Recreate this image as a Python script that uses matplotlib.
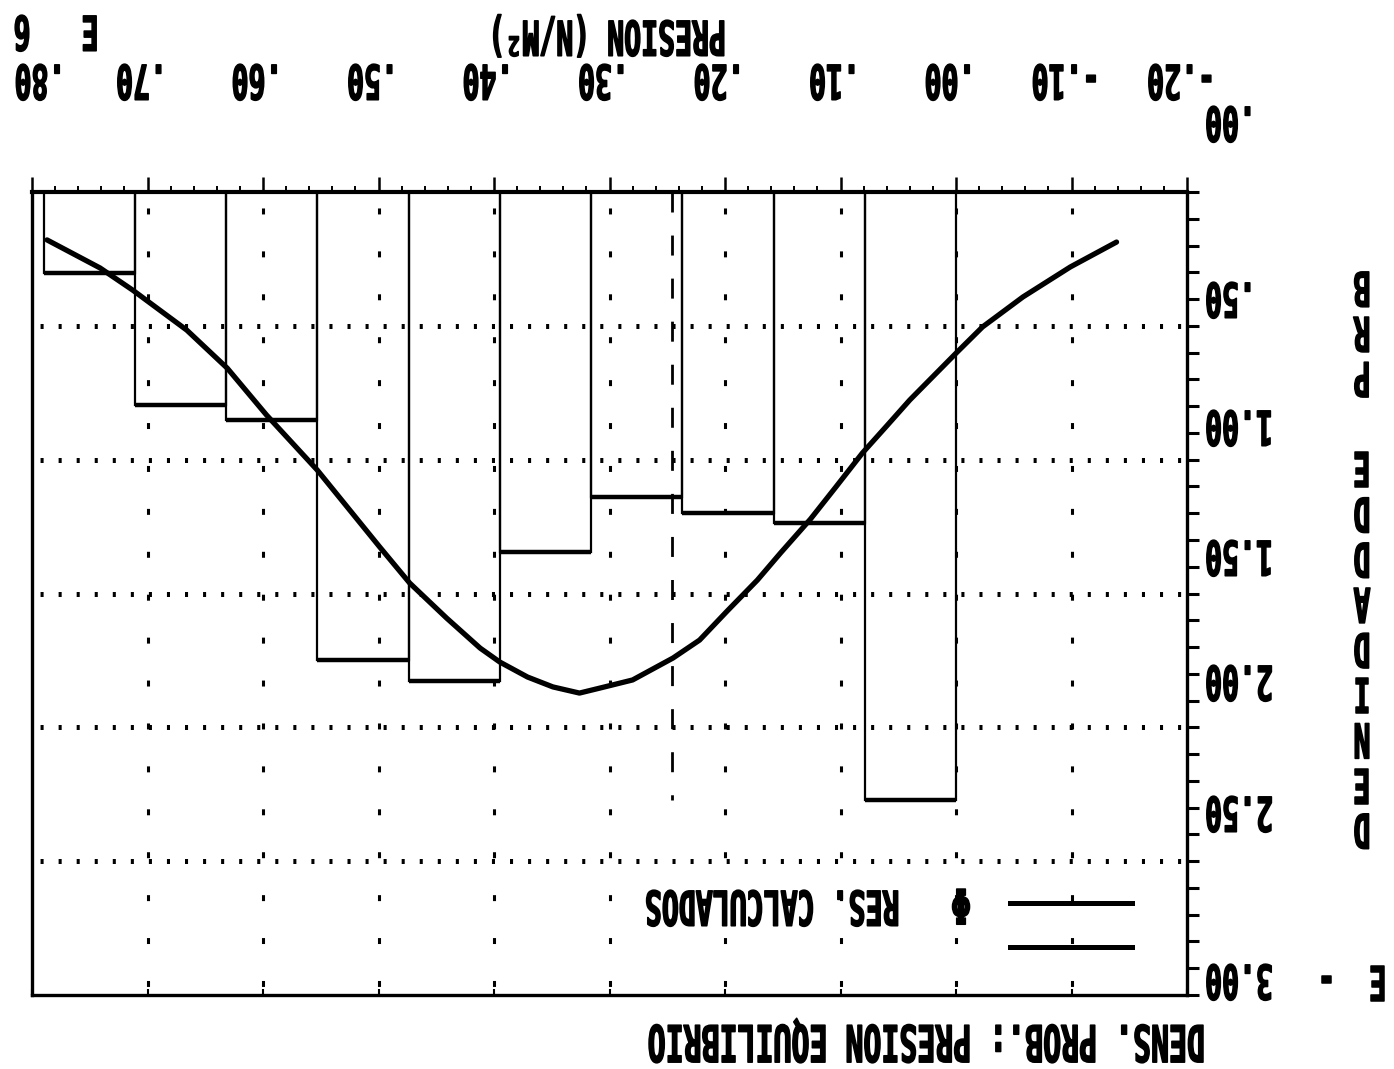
import numpy as np
import matplotlib
matplotlib.use("Agg")
import matplotlib.pyplot as plt
from matplotlib.ticker import MultipleLocator
from matplotlib.patheffects import AbstractPathEffect
from matplotlib.transforms import Affine2D, offset_copy

# --- datos (presion E 6 N/m2, densidad E -3) ---
bordes = [0.000, 0.079, 0.158, 0.237, 0.316, 0.395, 0.474, 0.553, 0.632, 0.711, 0.790]
densidad_hist = [2.271, 1.237, 1.199, 1.139, 1.345, 1.827, 1.748, 0.852, 0.796, 0.303]

curva_x = [0.787, 0.741, 0.713, 0.666, 0.631, 0.597, 0.553, 0.499, 0.473, 0.441,
           0.412, 0.395, 0.371, 0.349, 0.326, 0.308, 0.280, 0.245, 0.222, 0.198,
           0.172, 0.152, 0.126, 0.104, 0.081, 0.060, 0.040, -0.001, -0.023, -0.058,
           -0.099, -0.139]
curva_y = [0.179, 0.284, 0.366, 0.516, 0.658, 0.833, 1.039, 1.326, 1.461, 1.592,
           1.704, 1.756, 1.812, 1.849, 1.872, 1.853, 1.823, 1.741, 1.674, 1.565,
           1.450, 1.349, 1.222, 1.102, 0.975, 0.874, 0.777, 0.598, 0.504, 0.392,
           0.280, 0.187]

presion_media = 0.246
altura_media = 2.27

xtick_vals = [0.8, 0.7, 0.6, 0.5, 0.4, 0.3, 0.2, 0.1, 0.0, -0.1, -0.2]
xtick_labels = ['.80', '.70', '.60', '.50', '.40', '.30', '.20', '.10', '.00', '-.10', '-.20']
ytick_labels = ['.00', '.50', '1.00', '1.50', '2.00', '2.50', '3.00']
ytick_py = [122, 298, 426, 556, 681, 812, 980]   # posicion de las etiquetas (px)
ygrid_vals = [0.5, 1.0, 1.5, 2.0, 2.5]

W, H = 1394, 1069
plt.rcParams['font.family'] = ['DejaVu Sans Mono', 'DejaVu Sans']
plt.rcParams['lines.scale_dashes'] = False


class Alto(AbstractPathEffect):
    # letra alta tipo plotter: estira en y la ruta del texto
    def __init__(self, sy=1.7, trazo=1.1):
        super().__init__()
        self.sy, self.trazo = sy, trazo

    def draw_path(self, renderer, gc, tpath, affine, rgbFace=None):
        if len(tpath.vertices) == 0:
            return
        bb = tpath.get_extents(affine)
        if not np.isfinite(bb.y0):
            return
        y0 = (bb.y0 + bb.y1) / 2
        t = affine + Affine2D().translate(0, -y0).scale(1, self.sy).translate(0, y0)
        gc0 = renderer.new_gc()
        gc0.copy_properties(gc)
        gc0.set_linewidth(self.trazo)
        gc0.set_foreground(rgbFace)
        renderer.draw_path(gc0, tpath, t, rgbFace)
        gc0.restore()


def texto(x, y, s, transform=None, ha='center', fs=20.3, sy=1.7, **kw):
    return fig.text(x, y, s, rotation=180, ha=ha, va='center', fontsize=fs,
                    fontweight='bold', color='k',
                    transform=transform if transform is not None else fig.transFigure,
                    path_effects=[Alto(sy)], **kw)


fig = plt.figure(figsize=(W / 100, H / 100), dpi=100)
ax = fig.add_axes([32 / W, 1 - 995 / H, 1155 / W, 803 / H])
ax.set_xlim(0.8, -0.2)
ax.set_ylim(3.0, 0.0)

for s in ax.spines.values():
    s.set_linewidth(2.4)
ax.spines['top'].set_linewidth(3.0)

ax.xaxis.set_major_locator(MultipleLocator(0.1))
ax.xaxis.set_minor_locator(MultipleLocator(0.02))
ax.yaxis.set_major_locator(MultipleLocator(0.1))
ax.tick_params(axis='x', which='both', top=True, bottom=False, direction='out',
               labeltop=False, labelbottom=False)
ax.tick_params(axis='x', which='major', length=10.5, width=1.8)
ax.tick_params(axis='x', which='minor', length=4.3, width=1.4)
ax.tick_params(axis='y', which='major', left=False, right=True, direction='out',
               length=8.6, width=2.2, labelleft=False, labelright=False)

sec = ax.secondary_xaxis('bottom')
sec.set_xticks(xtick_vals)
sec.tick_params(direction='in', length=4.3, width=1.5, labelbottom=False)
for s in sec.spines.values():
    s.set_visible(False)

# rejilla punteada
for v in xtick_vals[1:-1]:
    ax.plot([v, v], [0, 3.0], color='k', lw=2.2, linestyle=(19.4, (4.3, 26.6)), zorder=1)
for v in ygrid_vals:
    ax.plot([0.8, -0.2], [v, v], color='k', lw=3.6, linestyle=(7.2, (2.2, 10.8)), zorder=1)

# histograma
ax.bar(bordes[:-1], densidad_hist, width=np.diff(bordes), align='edge', fill=False,
       edgecolor='k', linewidth=1.6, zorder=2)
ax.hlines(densidad_hist, bordes[:-1], bordes[1:], colors='k', lw=3.2, zorder=3)

# curva teorica y presion media
ax.plot(curva_x, curva_y, color='k', lw=3.8, solid_capstyle='round',
        solid_joinstyle='round', zorder=4)
ax.plot([presion_media, presion_media], [0, altura_media], color='k', lw=2.0,
        linestyle=(0, (14.4, 16.6)), zorder=3)

# leyenda
ax.plot([0.8468, 0.9524], [0.1146, 0.1146], transform=ax.transAxes, color='k', lw=3.6)
ax.plot([0.8468, 0.9524], [0.0598, 0.0598], transform=ax.transAxes, color='k', lw=3.6)
texto(961 / W, 1 - 904 / H, 'Φ', fs=24, sy=1.45)
texto(772 / W, 1 - 906 / H, 'RES. CALCULADOS')

# etiquetas de ejes
for v, lab in zip(xtick_vals, xtick_labels):
    dx = 8 if v == 0.8 else -6
    xt = offset_copy(ax.get_xaxis_transform(), fig=fig, x=dx, y=0, units='dots')
    texto(v, 1 + (192 - 80) / 803, lab, transform=xt)
for py, lab in zip(ytick_py, ytick_labels):
    texto(1205 / W, 1 - py / H, lab, ha='left')

texto(56 / W, 1 - 31 / H, 'E   6')
texto(607 / W, 1 - 35 / H, 'PRESION (N/M²)')
texto(1352 / W, 1 - 981 / H, 'E  -')
texto(926 / W, 1 - 1040 / H, 'DENS. PROB.: PRESION EQUILIBRIO', fs=21.5)
fig.text(1362 / W, 1 - 558 / H, '\n'.join('DENIDADDE PRB'), rotation=180,
         ha='center', va='center', multialignment='center', fontsize=20.3,
         fontweight='bold', linespacing=1.78, path_effects=[Alto()])

fig.savefig('out.png', dpi=100)
